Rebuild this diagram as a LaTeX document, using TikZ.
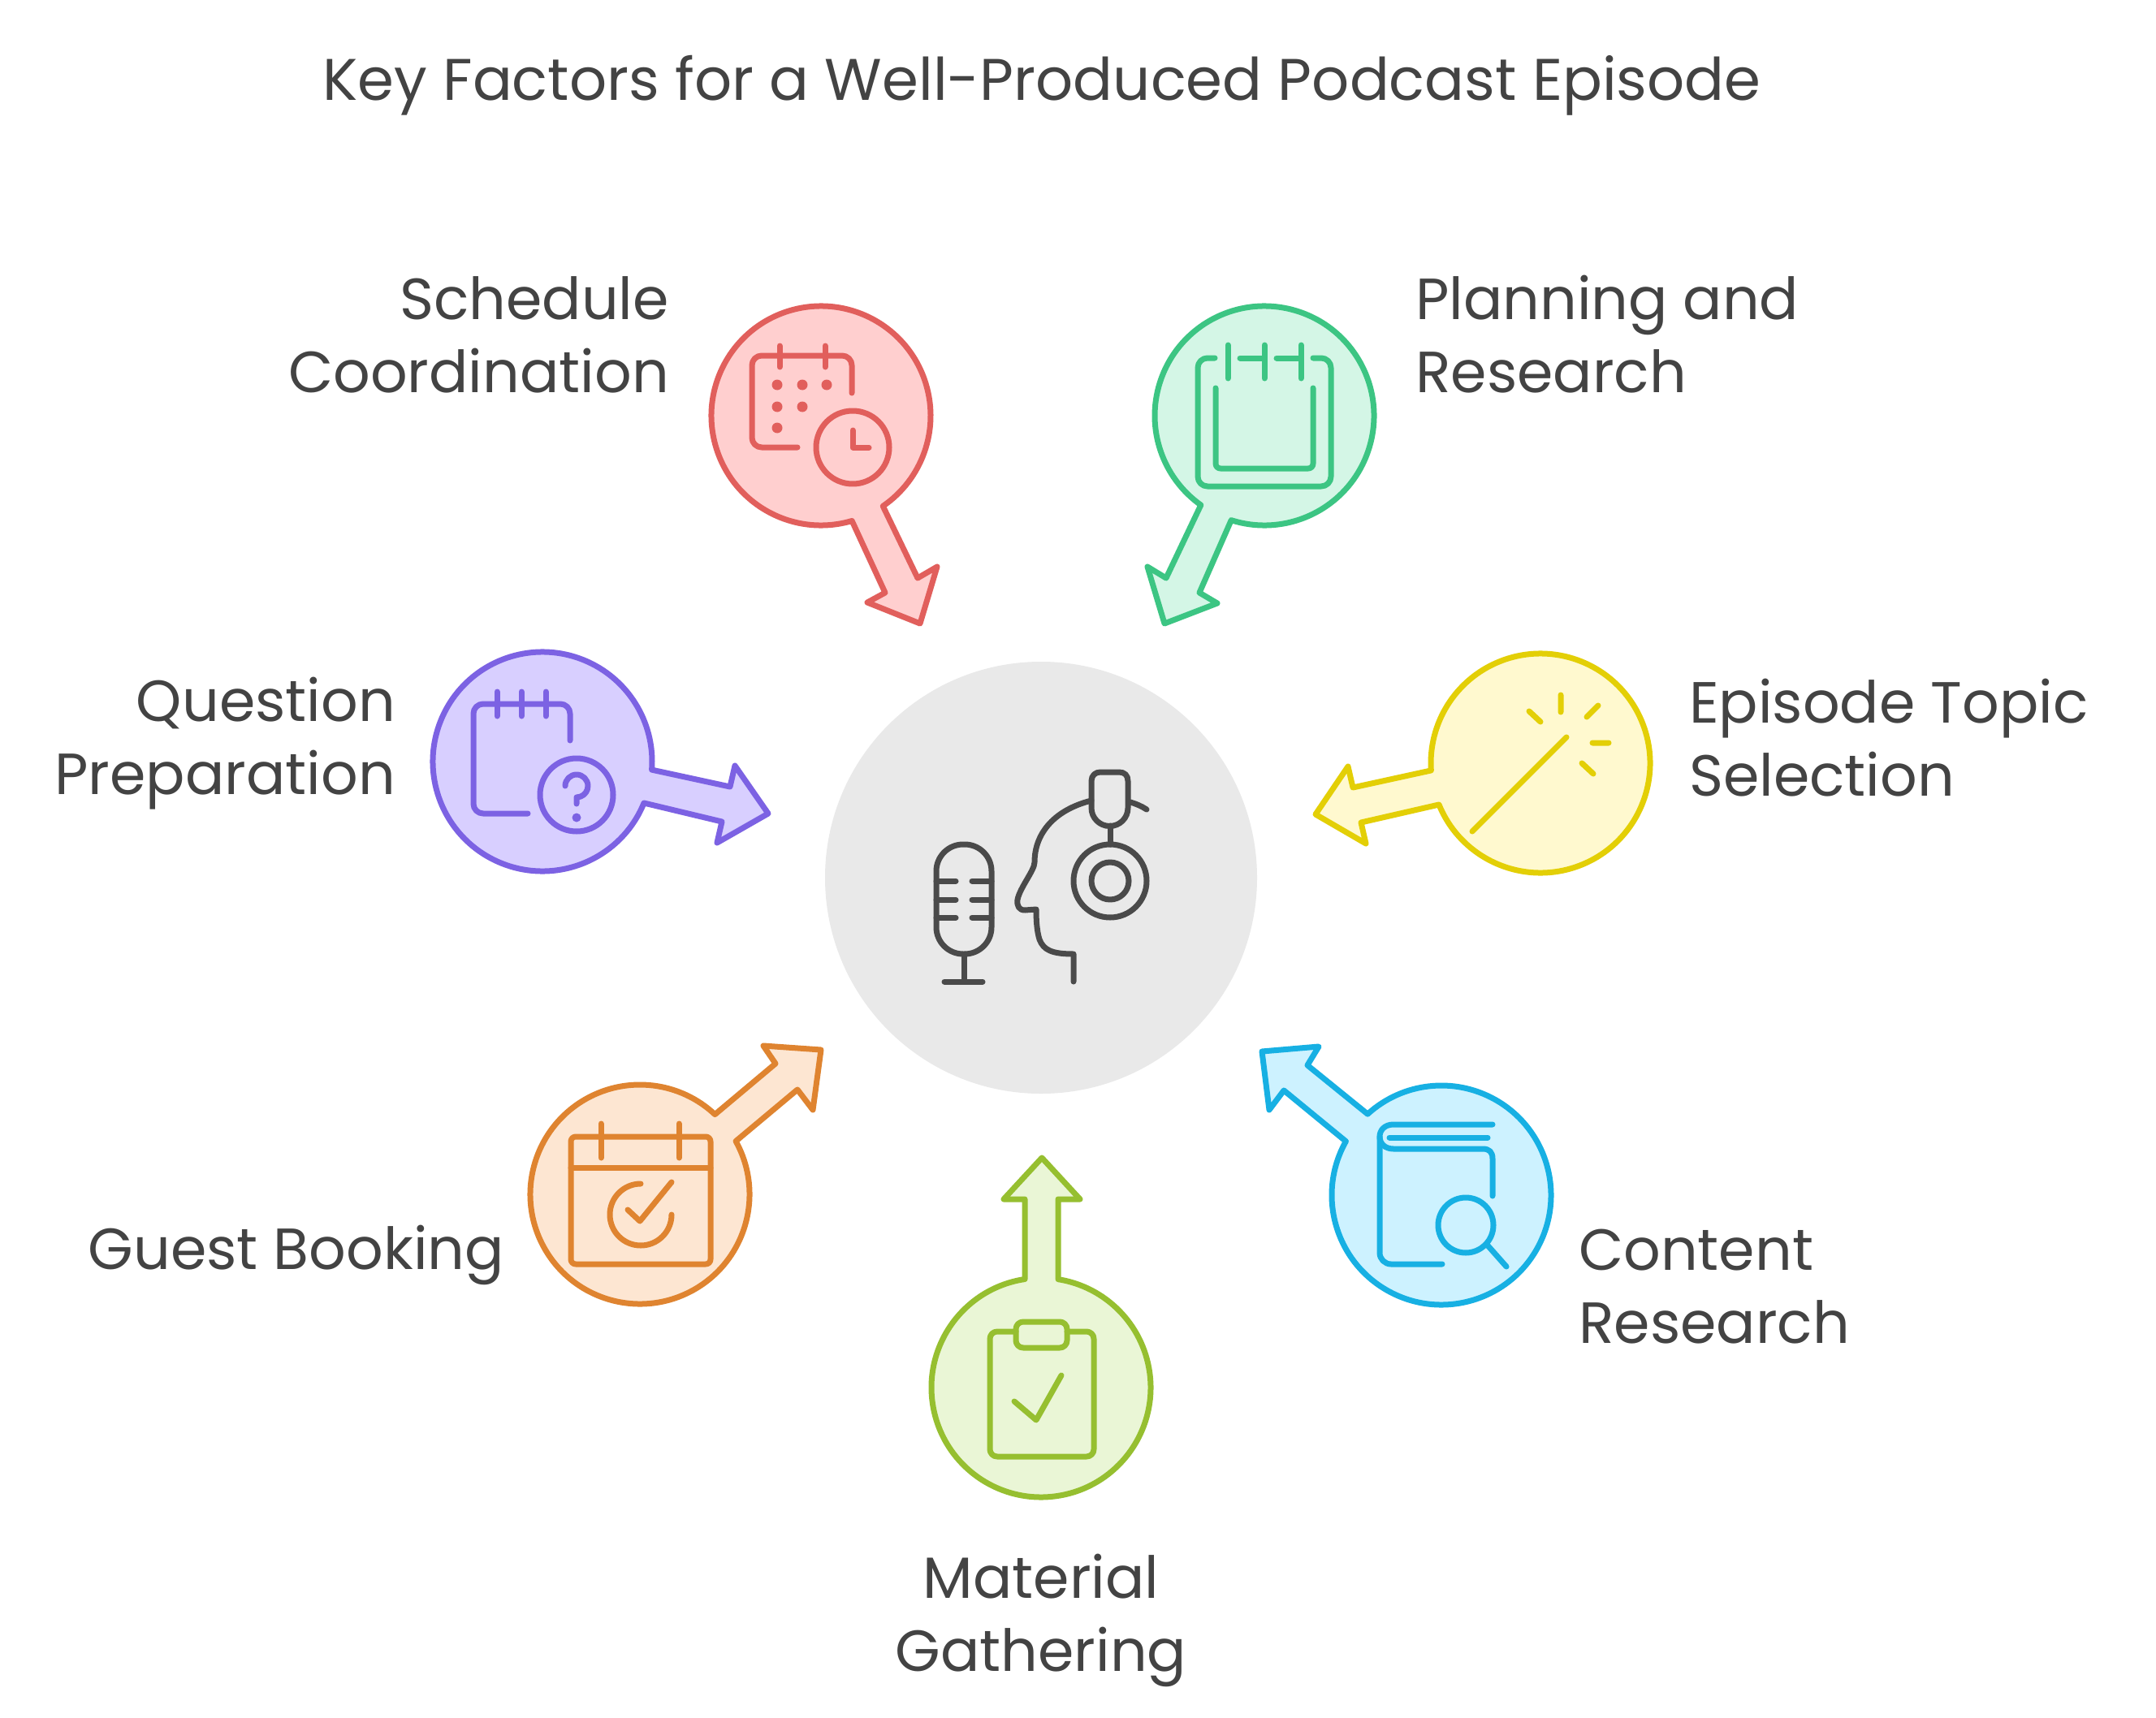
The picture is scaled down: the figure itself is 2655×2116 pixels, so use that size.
\documentclass[tikz,border=0pt]{standalone}
\usepackage{fontspec}
\setmainfont{Poppins}
\definecolor{txtc}{HTML}{434343}
\definecolor{hubc}{HTML}{E9E9E9}
\definecolor{icoc}{HTML}{4A4A4A}
\definecolor{purS}{HTML}{7C62E3}\definecolor{purF}{HTML}{D8CFFF}
\definecolor{yelS}{HTML}{E3CF06}\definecolor{yelF}{HTML}{FFF9CF}
\definecolor{redS}{HTML}{E15F5C}\definecolor{redF}{HTML}{FFCFCF}
\definecolor{grnS}{HTML}{3CC583}\definecolor{grnF}{HTML}{D4F6E6}
\definecolor{orgS}{HTML}{DF8430}\definecolor{orgF}{HTML}{FDE6D2}
\definecolor{bluS}{HTML}{17B0E3}\definecolor{bluF}{HTML}{CDF2FF}
\definecolor{oliS}{HTML}{96BF30}\definecolor{oliF}{HTML}{EAF6D6}
\tikzset{
  bub/.style n args={2}{draw=#1,fill=#2,line width=7pt,line join=round},
  ico/.style={draw=#1,line width=7pt,line cap=round,line join=round},
  lab/.style={text=txtc,inner sep=0pt,font=\fontsize{71.5}{90}\selectfont},
}
\begin{document}
\begin{tikzpicture}[x=1pt,y=-1pt]
\useasboundingbox[fill=white] (0,0) rectangle (2655,2116);
\node[lab,font=\fontsize{72.3}{84}\selectfont,anchor=center] (title) at (1283,105) {Key Factors for a Well-Produced Podcast Episode};
% hub
\node[circle,fill=hubc,minimum size=532pt,inner sep=0pt] (hub) at (1282,1081) {};
% bubbles
\draw[bub={redS}{redF}] ([shift={(55.6:135)}]1011,512) -- (1130,712) -- (1154,698) -- (1133,768) -- (1068,742) -- (1090,730) -- ([shift={(73.6:135)}]1011,512) arc[start angle=73.6,end angle=415.6,radius=135] -- cycle;
\draw[bub={grnS}{grnF}] ([shift={(125.4:135)}]1557,512) -- (1436,712) -- (1413,698) -- (1434,768) -- (1499,743) -- (1477,730) -- ([shift={(107.6:135)}]1557,512) arc[start angle=107.6,end angle=-234.6,radius=135] -- cycle;
\draw[bub={purS}{purF}] ([shift={(4.3:135)}]668,938) -- (899,969) -- (905,943) -- (946,1002) -- (883,1038) -- (889,1012) -- ([shift={(22.2:135)}]668,938) arc[start angle=22.2,end angle=364.3,radius=135] -- cycle;
\draw[bub={yelS}{yelF}] ([shift={(176.2:135)}]1897,940) -- (1666,970) -- (1660,944) -- (1620,1003) -- (1682,1039) -- (1676,1013) -- ([shift={(157.8:135)}]1897,940) arc[start angle=157.8,end angle=-183.8,radius=135] -- cycle;
\draw[bub={orgS}{orgF}] ([shift={(-46.8:135)}]788,1471) -- (955,1310) -- (940,1288) -- (1011,1293) -- (1001,1367) -- (982,1342) -- ([shift={(-29:135)}]788,1471) arc[start angle=-29,end angle=313.2,radius=135] -- cycle;
\draw[bub={bluS}{bluF}] ([shift={(227.7:135)}]1775,1472) -- (1610,1312) -- (1624,1289) -- (1554,1295) -- (1563,1367) -- (1581,1343) -- ([shift={(209.4:135)}]1775,1472) arc[start angle=209.4,end angle=-132.3,radius=135] -- cycle;
\draw[bub={oliS}{oliF}] ([shift={(-81:135)}]1282,1709) -- (1303,1477) -- (1330,1477) -- (1283,1426) -- (1236,1477) -- (1262,1477) -- ([shift={(-98.5:135)}]1282,1709) arc[start angle=-98.5,end angle=-441,radius=135] -- cycle;
% red icon
\draw[ico=redS] (982,551) -- (938,551) [rounded corners=12] -- (926,551) -- (926,438) -- (1049,438) [sharp corners] -- (1049,484);
\draw[ico=redS] (960,426) -- (960,452) (1016,426) -- (1016,452);
\foreach \px/\py in {957/474,988/474,1018/474,957/501,988/501,957/527}
  \fill[redS] (\px,\py) circle[radius=6.5];
\draw[ico=redS] (1050,551) circle[radius=45];
\draw[ico=redS] (1050,530) -- (1050,551) -- (1070,551);
% green icon
\draw[ico=grnS,rounded corners=12] (1496,441) -- (1475,441) -- (1475,599) -- (1639,599) -- (1639,441) -- (1617,441);
\draw[ico=grnS] (1527,441) -- (1557,441) (1572,441) -- (1602,441);
\draw[ico=grnS] (1512,425) -- (1512,466) (1557,425) -- (1557,466) (1602,425) -- (1602,466);
\draw[ico=grnS,rounded corners=6] (1497,478) -- (1497,577) -- (1617,577) -- (1617,478);
% purple icon
\draw[ico=purS,rounded corners=12] (702,912) -- (702,867) -- (583,867) -- (583,1002) -- (650,1002);
\draw[ico=purS] (612,852) -- (612,882) (642,852) -- (642,882) (672,852) -- (672,882);
\draw[ico=purS] (710,979) circle[radius=45];
\draw[ico=purS] (696,968) arc[start angle=180,end angle=430,radius=14] -- (710,982) -- (710,990);
\fill[purS] (710,1007) circle[radius=5.5];
% yellow icon
\draw[ico=yelS] (1813,1024) -- (1929,908);
\draw[ico=yelS] (1922,856) -- (1922,877) (1883,876) -- (1897,889) (1968,869) -- (1954,883) (1961,915) -- (1981,915) (1948,940) -- (1962,953);
% orange icon
\draw[ico=orgS,rounded corners=6] (703,1400) rectangle (875,1557);
\draw[ico=orgS] (703,1438) -- (875,1438);
\draw[ico=orgS] (740,1384) -- (740,1426) (836,1384) -- (836,1426);
\draw[ico=orgS] (789,1458) arc[start angle=-90,end angle=-360,radius=38];
\draw[ico=orgS] (773,1490) -- (788,1504) -- (827,1456);
% blue icon
\draw[ico=bluS] (1838,1385) -- (1716,1385) .. controls (1705,1385) and (1699,1392) .. (1699,1400) .. controls (1699,1408) and (1705,1415) .. (1716,1415) -- (1826,1415) .. controls (1834,1415) and (1838,1419) .. (1838,1427) -- (1838,1473);
\draw[ico=bluS] (1711,1401) -- (1832,1401);
\draw[ico=bluS,rounded corners=14] (1699,1400) -- (1699,1557) -- (1776,1557);
\draw[ico=bluS] (1805,1509) circle[radius=34];
\draw[ico=bluS] (1832,1534) -- (1855,1560);
% olive icon
\draw[ico=oliS,rounded corners=9] (1251,1640) -- (1219,1640) -- (1219,1794) -- (1347,1794) -- (1347,1640) -- (1314,1640);
\draw[ico=oliS,rounded corners=9] (1251,1628) rectangle (1314,1660);
\draw[ico=oliS] (1249,1726) -- (1276,1749) -- (1307,1694);
% hub icon
\draw[ico=icoc,rounded corners=33] (1153,1040) rectangle (1221,1175);
\draw[ico=icoc] (1153,1085) -- (1177,1085) (1197,1085) -- (1221,1085) (1153,1108) -- (1177,1108) (1197,1108) -- (1221,1108) (1153,1130) -- (1177,1130) (1197,1130) -- (1221,1130);
\draw[ico=icoc] (1187,1175) -- (1187,1209) (1163,1209) -- (1210,1209);
\draw[ico=icoc] (1322,1209) -- (1322,1175) .. controls (1295,1175) and (1285,1170) .. (1280,1157) .. controls (1277,1147) and (1276,1135) .. (1276,1120) -- (1262,1121) .. controls (1255,1121) and (1252,1116) .. (1253,1108) .. controls (1256,1093) and (1274,1072) .. (1274,1062) .. controls (1274,1025) and (1300,997) .. (1344,986);
\draw[ico=icoc] (1344,990) -- (1344,962) .. controls (1344,955) and (1349,951) .. (1355,951) -- (1378,951) .. controls (1385,951) and (1389,955) .. (1389,962) -- (1389,995) arc[start angle=0,end angle=180,radius=22.5] -- cycle;
\draw[ico=icoc] (1367,1017) -- (1367,1040);
\draw[ico=icoc] (1367,1085) circle[radius=45];
\draw[ico=icoc] (1367,1085) circle[radius=23];
\draw[ico=icoc] (1392,988) .. controls (1399,990) and (1406,993) .. (1412,997);
% labels
\node[lab,anchor=east,align=right] (l1) at (824,412) {Schedule\\Coordination};
\node[lab,anchor=west,align=left] (l2) at (1743,412) {Planning and\\Research};
\node[lab,anchor=east,align=right] (l3) at (487,916) {Question\\Preparation};
\node[lab,anchor=west,align=left] (l4) at (2080,909) {Episode Topic\\Selection};
\node[lab,anchor=east,align=right] (l5) at (621,1546) {Guest Booking};
\node[lab,anchor=west,align=left] (l6) at (1944,1585) {Content\\Research};
\node[lab,anchor=center,align=center] (l7) at (1282,1996) {Material\\Gathering};
\end{tikzpicture}
\end{document}
